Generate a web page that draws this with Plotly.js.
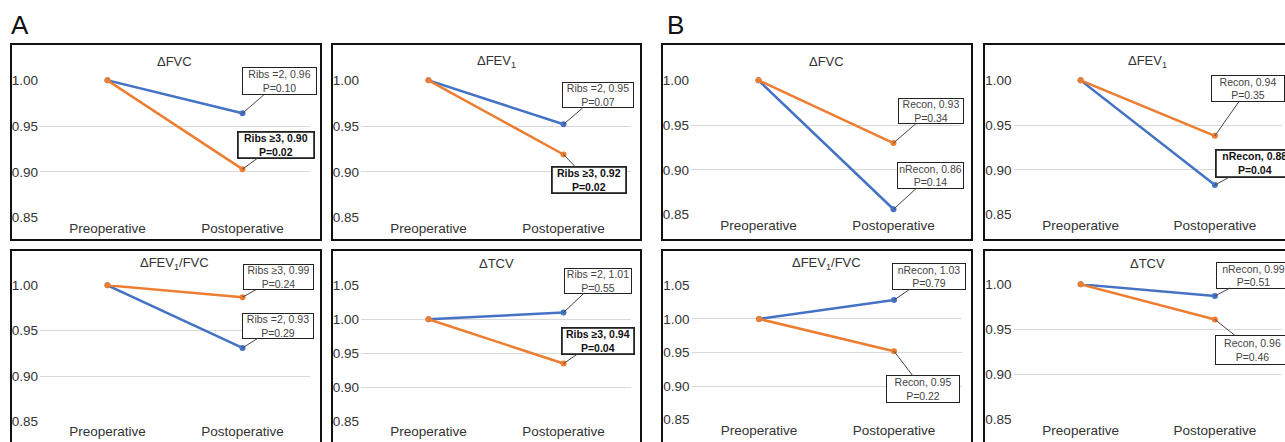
<!DOCTYPE html>
<html>
<head>
<meta charset="utf-8">
<script src="https://cdn.plot.ly/plotly-3.0.1.min.js"></script>
<style>html,body{margin:0;padding:0;background:#fff;}#chart{width:1285px;height:442px;}</style>
</head>
<body>
<div id="chart"></div>
<script>
// ---------------- DATA ----------------
const categories = ['Preoperative', 'Postoperative'];

// Panel A: ribs =2 (blue) vs ribs >=3 (orange)
const aFVC_ribs2   = [1.00, 0.964];
const aFVC_ribs3   = [1.00, 0.903];
const aFEV1_ribs2  = [1.00, 0.952];
const aFEV1_ribs3  = [1.00, 0.919];
const aRatio_ribs2 = [1.00, 0.931];
const aRatio_ribs3 = [1.00, 0.987];
const aTCV_ribs2   = [1.00, 1.010];
const aTCV_ribs3   = [1.00, 0.935];

// Panel B: nRecon (blue) vs Recon (orange)
const bFVC_nrecon   = [1.00, 0.856];
const bFVC_recon    = [1.00, 0.930];
const bFEV1_nrecon  = [1.00, 0.883];
const bFEV1_recon   = [1.00, 0.938];
const bRatio_nrecon = [1.00, 1.028];
const bRatio_recon  = [1.00, 0.952];
const bTCV_nrecon   = [1.00, 0.987];
const bTCV_recon    = [1.00, 0.961];

const panelTitles = ['ΔFVC', 'ΔFEV<sub>1</sub>', 'ΔFEV<sub>1</sub>/FVC', 'ΔTCV',
                     'ΔFVC', 'ΔFEV<sub>1</sub>', 'ΔFEV<sub>1</sub>/FVC', 'ΔTCV'];
const panelLetters = ['A', 'B'];

// label text: blue label and orange label for each panel
const blueLabels = [
  'Ribs =2, 0.96<br>P=0.10', 'Ribs =2, 0.95<br>P=0.07', 'Ribs =2, 0.93<br>P=0.29', 'Ribs =2, 1.01<br>P=0.55',
  'nRecon, 0.86<br>P=0.14', '<b>nRecon, 0.88<br>P=0.04</b>', 'nRecon, 1.03<br>P=0.79', 'nRecon, 0.99<br>P=0.51'];
const orangeLabels = [
  '<b>Ribs ≥3, 0.90<br>P=0.02</b>', '<b>Ribs ≥3, 0.92<br>P=0.02</b>', 'Ribs ≥3, 0.99<br>P=0.24', '<b>Ribs ≥3, 0.94<br>P=0.04</b>',
  'Recon, 0.93<br>P=0.34', 'Recon, 0.94<br>P=0.35', 'Recon, 0.95<br>P=0.22', 'Recon, 0.96<br>P=0.46'];
const blueBold   = [false, false, false, false, false, true, false, false];
const orangeBold = [true, true, false, true, false, false, false, false];

const blueSeries   = [aFVC_ribs2, aFEV1_ribs2, aRatio_ribs2, aTCV_ribs2, bFVC_nrecon, bFEV1_nrecon, bRatio_nrecon, bTCV_nrecon];
const orangeSeries = [aFVC_ribs3, aFEV1_ribs3, aRatio_ribs3, aTCV_ribs3, bFVC_recon, bFEV1_recon, bRatio_recon, bTCV_recon];

// ---------------- LAYOUT (pixel geometry) ----------------
const W = 1285, H = 442;
const px = x => x / W;
const py = y => 1 - y / H;

const panels = [
  {x: [40, 310],      y: [80, 218],    r: [0.85, 1.00], box: [11, 321, 44, 240],   title: 62},
  {x: [361, 631],     y: [80, 218],    r: [0.85, 1.00], box: [332, 641, 44, 240],  title: 62},
  {x: [40, 310],      y: [285, 421.7], r: [0.85, 1.00], box: [11, 321, 250, 460],  title: 263},
  {x: [361, 631],     y: [285, 421.7], r: [0.85, 1.05], box: [332, 641, 250, 460], title: 263},
  {x: [691, 961],     y: [80, 215],    r: [0.85, 1.00], box: [662, 972, 44, 240],  title: 62},
  {x: [1013.5, 1282], y: [80, 215],    r: [0.85, 1.00], box: [984, 1300, 44, 240], title: 62},
  {x: [691.5, 961.5], y: [285, 420],   r: [0.85, 1.05], box: [662, 972, 250, 460], title: 263},
  {x: [1013.5, 1282], y: [284, 420],   r: [0.85, 1.00], box: [984, 1300, 250, 460], title: 263}
];
// label offsets [ax, ay, w, h]
const blueOff = [[37, -32, 73, 26], [34, -29, 70, 24], [35, -22, 70, 24], [34, -32, 66, 24],
                 [37, -34, 65, 25], [40, -22, 76, 25], [35, -24, 72, 25], [39, -21, 73, 25]];
const orangeOff = [[33, -24, 74, 24], [25, 26, 72, 24], [36, -20, 69, 24], [34, -23, 70, 24],
                   [37, -32, 64, 24], [33, -47, 72, 25], [29, 38, 72, 26], [38, 30, 73, 28]];

const BLUE = '#4472C4', ORANGE = '#ED7D31';
const FONT = 'Liberation Sans, Arial, Helvetica, sans-serif';

const data = [];
const layout = {
  width: W, height: H,
  margin: {l: 0, r: 0, t: 0, b: 0},
  paper_bgcolor: '#ffffff', plot_bgcolor: 'rgba(0,0,0,0)',
  showlegend: false,
  font: {family: FONT, color: '#333333'},
  shapes: [], annotations: []
};

panels.forEach((p, i) => {
  const n = i === 0 ? '' : String(i + 1);
  const xa = 'x' + n, ya = 'y' + n;
  data.push({x: categories, y: blueSeries[i], type: 'scatter', mode: 'lines+markers',
             xaxis: xa, yaxis: ya, line: {color: BLUE, width: 2.5}, marker: {color: BLUE, size: 6}, cliponaxis: false});
  data.push({x: categories, y: orangeSeries[i], type: 'scatter', mode: 'lines+markers',
             xaxis: xa, yaxis: ya, line: {color: ORANGE, width: 2.5}, marker: {color: ORANGE, size: 6}, cliponaxis: false});

  layout['xaxis' + n] = {
    domain: [px(p.x[0]), px(p.x[1])], anchor: ya, type: 'category', range: [-0.5, 1.5],
    showgrid: false, zeroline: false, showline: false, ticks: '',
    tickfont: {size: 13.5, color: '#333333', family: FONT}, fixedrange: true
  };
  layout['yaxis' + n] = {
    domain: [py(p.y[1]), py(p.y[0])], anchor: xa, range: [p.r[0] - 0.0004, p.r[1] + 0.0004],
    dtick: 0.05, tick0: 0, tickformat: '.2f', showgrid: true, gridcolor: '#d9d9d9', gridwidth: 1,
    zeroline: false, showline: false, ticks: '', ticklabelstandoff: 1,
    tickfont: {size: 13.5, color: '#333333', family: FONT}, fixedrange: true
  };

  layout.shapes.push({type: 'rect', xref: 'paper', yref: 'paper',
    x0: px(p.box[0]), x1: px(p.box[1]), y0: py(p.box[3]), y1: py(p.box[2]),
    line: {color: '#111111', width: 2}, fillcolor: 'rgba(0,0,0,0)', layer: 'below'});

  layout.annotations.push({xref: 'paper', yref: 'paper', x: px((p.x[0] + p.x[1]) / 2), y: py(p.title),
    text: panelTitles[i], showarrow: false, xanchor: 'center', yanchor: 'middle',
    font: {size: 13, color: '#333333', family: FONT}});

  const mk = (series, label, bold, off) => ({
    xref: xa, yref: ya, x: categories[1], y: series[1], text: label,
    showarrow: true, arrowhead: 0, arrowwidth: 1, arrowcolor: '#444444', standoff: 0,
    ax: off[0], ay: off[1], width: off[2], height: off[3], align: 'center', valign: 'middle',
    bgcolor: '#ffffff', bordercolor: '#222222', borderwidth: bold ? 1.8 : 1, borderpad: 0,
    font: {size: 10.5, color: bold ? '#111111' : '#444444', family: FONT}
  });
  layout.annotations.push(mk(blueSeries[i], blueLabels[i], blueBold[i], blueOff[i]));
  layout.annotations.push(mk(orangeSeries[i], orangeLabels[i], orangeBold[i], orangeOff[i]));
});

layout.annotations.push({xref: 'paper', yref: 'paper', x: px(9), y: py(25), text: panelLetters[0],
  showarrow: false, xanchor: 'left', yanchor: 'middle', font: {size: 26, color: '#111111', family: FONT}});
layout.annotations.push({xref: 'paper', yref: 'paper', x: px(665), y: py(25), text: panelLetters[1],
  showarrow: false, xanchor: 'left', yanchor: 'middle', font: {size: 26, color: '#111111', family: FONT}});

Plotly.newPlot('chart', data, layout, {displayModeBar: false, staticPlot: true});
</script>
</body>
</html>
